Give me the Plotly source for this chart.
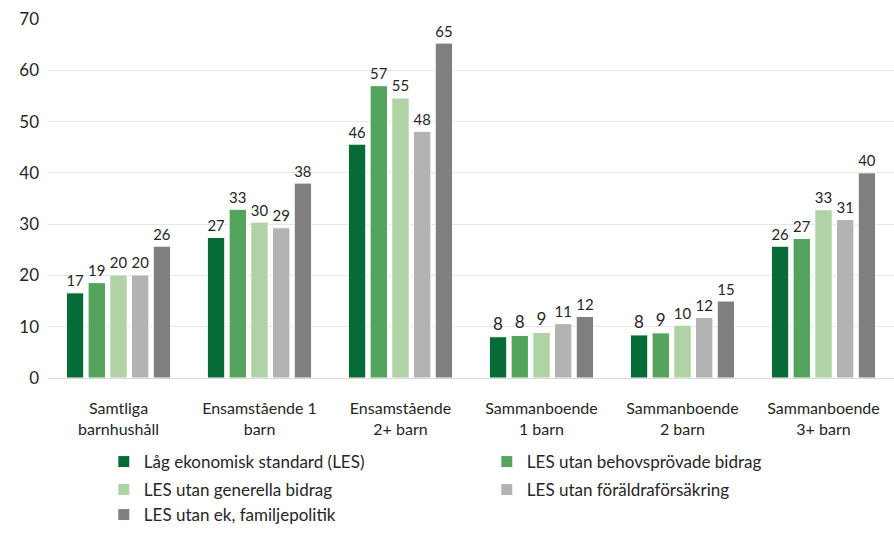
import plotly.graph_objects as go

categories = ["Samtliga<br>barnhushåll", "Ensamstående 1<br>barn", "Ensamstående<br>2+ barn",
              "Sammanboende<br>1 barn", "Sammanboende<br>2 barn", "Sammanboende<br>3+ barn"]

series_names = ["Låg ekonomisk standard (LES)", "LES utan behovsprövade bidrag",
                "LES utan generella bidrag", "LES utan föräldraförsäkring",
                "LES utan ek, familjepolitik"]

les = [16.6, 27.4, 45.6, 8.05, 8.4, 25.7]
utan_behov = [18.6, 32.9, 57.0, 8.3, 8.8, 27.2]
utan_generella = [20.1, 30.4, 54.6, 8.9, 10.3, 32.8]
utan_foraldra = [20.1, 29.3, 48.1, 10.6, 11.8, 30.9]
utan_familj = [25.7, 38.0, 65.3, 12.0, 15.0, 40.0]

values = [les, utan_behov, utan_generella, utan_foraldra, utan_familj]
colors = ["#066B37", "#55A45E", "#B0D3A6", "#B3B3B3", "#7F7F7F"]
legend_ids = ["legend", "legend", "legend2", "legend2", "legend3"]

yticks = [0, 10, 20, 30, 40, 50, 60, 70]

FONT = "Lato, 'Open Sans', sans-serif"
TXT = "#262626"

fig = go.Figure()
for name, vals, col, lg in zip(series_names, values, colors, legend_ids):
    fig.add_trace(go.Bar(
        x=categories, y=vals, name=name, legend=lg,
        marker=dict(color=col, line=dict(color="white", width=1)),
        texttemplate="%{y:.0f}", textposition="outside", cliponaxis=False,
        textfont=dict(size=17, color=TXT, family=FONT),
    ))

def leg(y):
    return dict(orientation="h", x=0.066, xanchor="left", y=y, yanchor="middle",
                entrywidth=338, entrywidthmode="pixels",
                font=dict(size=17, family=FONT, color=TXT),
                itemwidth=30, traceorder="normal", bgcolor="rgba(0,0,0,0)")

fig.update_layout(
    width=894, height=533,
    barmode="group", bargap=0.23, bargroupgap=0.2,
    plot_bgcolor="white", paper_bgcolor="white",
    margin=dict(l=48, r=0, t=19, b=154),
    font=dict(family=FONT, size=16, color=TXT),
    showlegend=True,
    legend=leg(-0.2306),
    legend2=leg(-0.3083),
    legend3=leg(-0.3806),
)
fig.update_yaxes(range=[0, 70], tickvals=yticks, showgrid=True, gridcolor="#E6E6E6",
                 zeroline=True, zerolinecolor="#D9D9D9", zerolinewidth=1,
                 tickfont=dict(size=17, color=TXT), ticks="", showline=False, ticklabelstandoff=8,
                 automargin=False)
fig.update_xaxes(tickfont=dict(size=16, color=TXT), showline=False, ticks="",
                 ticklabelstandoff=19, automargin=False)

fig.write_html("out.html", config={"displayModeBar": False},
               post_script="document.body.style.margin='0';")
